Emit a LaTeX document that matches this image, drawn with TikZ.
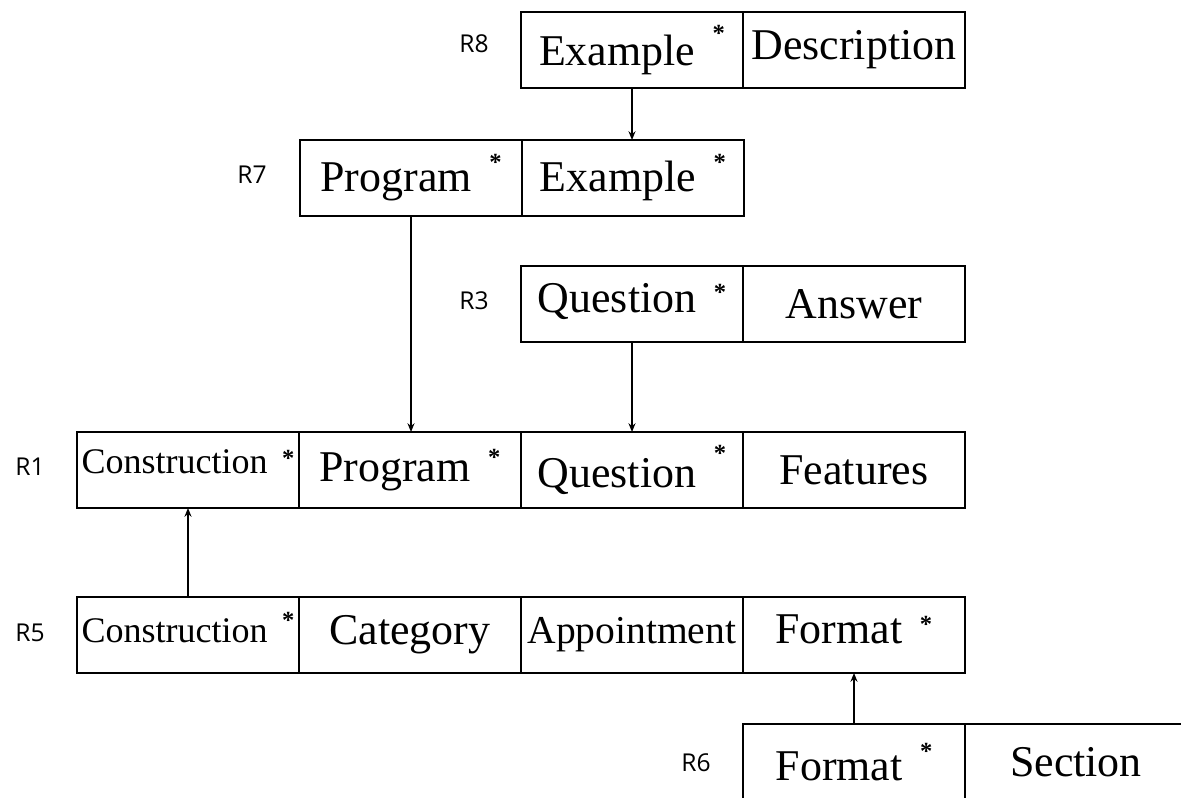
\documentclass[tikz,border=0pt]{standalone}
\usepackage{fontspec}
\setmainfont{Liberation Serif}
\newfontfamily\tagfont{Open Sans}
\usetikzlibrary{positioning,arrows.meta}
\newcommand{\pk}[2][15pt]{#2\hspace{.4em}\raisebox{#1}{\fontsize{14}{14}\selectfont\bfseries *}}

\begin{document}
\begin{tikzpicture}
[x=0.02cm,y=-0.02cm,%
  cell/.style={shape=rectangle,draw,line width=1.1pt,outer sep=0pt,inner xsep=1pt,%
    minimum width=4.44cm,minimum height=1.52cm,font=\fontsize{25}{27}\selectfont},%
  small/.style={font=\fontsize{20.5}{23}\selectfont},%
  mid/.style={font=\fontsize{22.5}{25}\selectfont},%
  tag/.style={font=\tagfont\fontsize{14}{16}\selectfont},%
  link/.style={line width=1.1pt,-{Stealth[length=5pt,width=4pt]}}]
\useasboundingbox (0,0) rectangle (1181,798);
\node[cell] (r8a) at (632,50) {\pk[14pt]{Example}};
\node[cell,right=0pt of r8a] (r8b) {Description};
\node[cell] (r7a) at (411,178) {\pk[12pt]{Program}};
\node[cell,right=0pt of r7a] (r7b) {\pk[12pt]{Example}};
\node[cell,text depth=7pt] (r3a) at (632,304) {\pk[7pt]{Question}};
\node[cell,right=0pt of r3a] (r3b) {Answer};
\node[cell,small,text depth=10pt] (r1a) at (188,470) {\pk[3.5pt]{Construction}};
\node[cell,right=0pt of r1a] (r1b) {\pk[9pt]{Program}};
\node[cell,right=0pt of r1b] (r1c) {\pk{Question}};
\node[cell,right=0pt of r1c] (r1d) {Features};
\node[cell,small,text depth=8.5pt] (r5a) at (188,635) {\pk[8pt]{Construction}};
\node[cell,right=0pt of r5a] (r5b) {Category};
\node[cell,mid,right=0pt of r5b] (r5c) {Appointment};
\node[cell,text depth=7pt,right=0pt of r5c] (r5d) {\pk[6pt]{Format}};
\node[cell] (r6a) at (854,762) {\pk[12pt]{Format}};
\node[cell,right=0pt of r6a] (r6b) {Section};
\node[tag] (t8) at (474,44) {R8};
\node[tag] (t7) at (252,175) {R7};
\node[tag] (t3) at (474,301) {R3};
\node[tag] (t1) at (30,467) {R1};
\node[tag] (t5) at (30,633) {R5};
\node[tag] (t6) at (696,763) {R6};
\draw[link] (r8a.south) -- (r8a.south |- r7b.north);
\draw[link] (r7a.south) -- (r7a.south |- r1b.north);
\draw[link] (r3a.south) -- (r3a.south |- r1c.north);
\draw[link] (r5a.north) -- (r5a.north |- r1a.south);
\draw[link] (r6a.north) -- (r6a.north |- r5d.south);
\end{tikzpicture}
\end{document}
